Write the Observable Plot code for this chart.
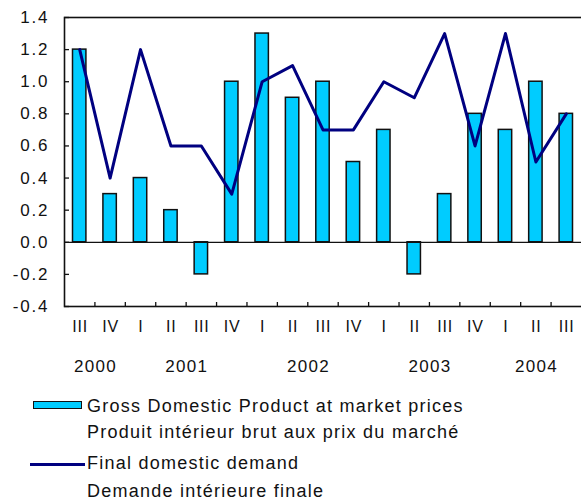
<!DOCTYPE html>
<html><head><meta charset="utf-8">
<script src="https://cdn.jsdelivr.net/npm/d3@7"></script>
<script src="https://cdn.jsdelivr.net/npm/@observablehq/plot@0.6"></script>
<style>
body{margin:0;background:#fff;overflow:hidden;font-family:"Liberation Sans",Arial,sans-serif;}
#wrap{position:relative;width:581px;height:500px;overflow:hidden;}
.leg{position:absolute;left:87px;font-size:18px;letter-spacing:1.25px;color:#111;white-space:nowrap;line-height:20px;}
.sw{position:absolute;box-sizing:border-box;}
</style></head><body><div id="wrap"></div>
<script>
const quarters = ["III","IV","I","II","III","IV","I","II","III","IV","I","II","III","IV","I","II","III"];
const years = ["2000","2001","2002","2003","2004"];
const yearFirst = [0,2,6,10,14];
const yearLast = [1,5,9,13,16];
const gdp = [1.2,0.3,0.4,0.2,-0.2,1.0,1.3,0.9,1.0,0.5,0.7,-0.2,0.3,0.8,0.7,1.0,0.8];
const fdd = [1.2,0.4,1.2,0.6,0.6,0.3,1.0,1.1,0.7,0.7,1.0,0.9,1.3,0.6,1.3,0.5,0.8];
const yTicks = [-0.4,-0.2,0,0.2,0.4,0.6,0.8,1.0,1.2,1.4];
const legendLabels = ["Gross Domestic Product at market prices","Produit intérieur brut aux prix du marché","Final domestic demand","Demande intérieure finale"];

const data = quarters.map((q,i)=>({i,q,gdp:gdp[i],fdd:fdd[i]}));
const yearData = years.map((y,k)=>({y,c:(yearFirst[k]+yearLast[k])/2}));
const bounds = d3.range(0.5, quarters.length - 0.5, 1);

const W = 581, H = 390, mL = 64, mT = 17, mB = 84, mR = 0;
const plotH = H - mT - mB, plotW = W - mL - mR;
const font = "'Liberation Sans', Arial, sans-serif";

const chart = Plot.plot({
  width: W, height: H,
  marginLeft: mL, marginTop: mT, marginBottom: mB, marginRight: mR,
  x: {domain: [-0.5, quarters.length - 0.5], axis: null},
  y: {domain: [-0.4, 1.4], axis: null},
  style: {fontFamily: font, background: "#fff", color: "#111", fontSize: "17px"},
  marks: [
    Plot.rectY(data, {x1: d=>d.i-0.5, x2: d=>d.i+0.5, y: "gdp", insetLeft: 8.5, insetRight: 8.5, fill: "#00CCFF", stroke: "#111", strokeWidth: 1.5}),
    Plot.ruleY([0], {stroke: "#111", strokeWidth: 1.3}),
    Plot.line(data, {x: "i", y: "fdd", stroke: "#000080", strokeWidth: 3}),
    Plot.frame({stroke: "#111", strokeWidth: 1.6, insetRight: -4}),
    Plot.tickY(yTicks, {y: d=>d, insetRight: plotW - 5, stroke: "#111", strokeWidth: 1.3}),
    Plot.tickX(bounds, {x: d=>d, insetTop: plotH - 4, stroke: "#111", strokeWidth: 1.3}),
    Plot.text(yTicks, {y: d=>d, text: d=>d.toFixed(1), frameAnchor: "left", textAnchor: "end", dx: -15.2, fontSize: 17, fill: "#111"}),
    Plot.text(data, {x: "i", text: "q", frameAnchor: "bottom", dy: 25, dx: 0.4, fontSize: 16, fill: "#111"}),
    Plot.text(yearData, {x: "c", text: "y", frameAnchor: "bottom", dy: 65, dx: 0.6, fontSize: 17, fill: "#111"})
  ]
});
const groups = d3.select(chart).selectAll('g[aria-label="text"]').nodes();
const spacing = [1.8, 0.8, 1.3];
groups.forEach((g,k)=>d3.select(g).selectAll("text").style("letter-spacing", spacing[k]+"px"));
const wrap = document.getElementById("wrap");
wrap.appendChild(chart);

function add(cls, css, txt){ const d=document.createElement("div"); d.className=cls; Object.assign(d.style, css); if(txt) d.textContent=txt; wrap.appendChild(d); }
add("sw", {left:"33px", top:"401px", width:"49px", height:"8px", background:"#00CCFF", border:"1.5px solid #111"});
add("sw", {left:"30px", top:"463px", width:"55px", height:"3px", background:"#000080"});
const tops = [396, 422, 453, 481];
legendLabels.forEach((t,k)=>add("leg", {top: tops[k]+"px"}, t));
</script></body></html>
